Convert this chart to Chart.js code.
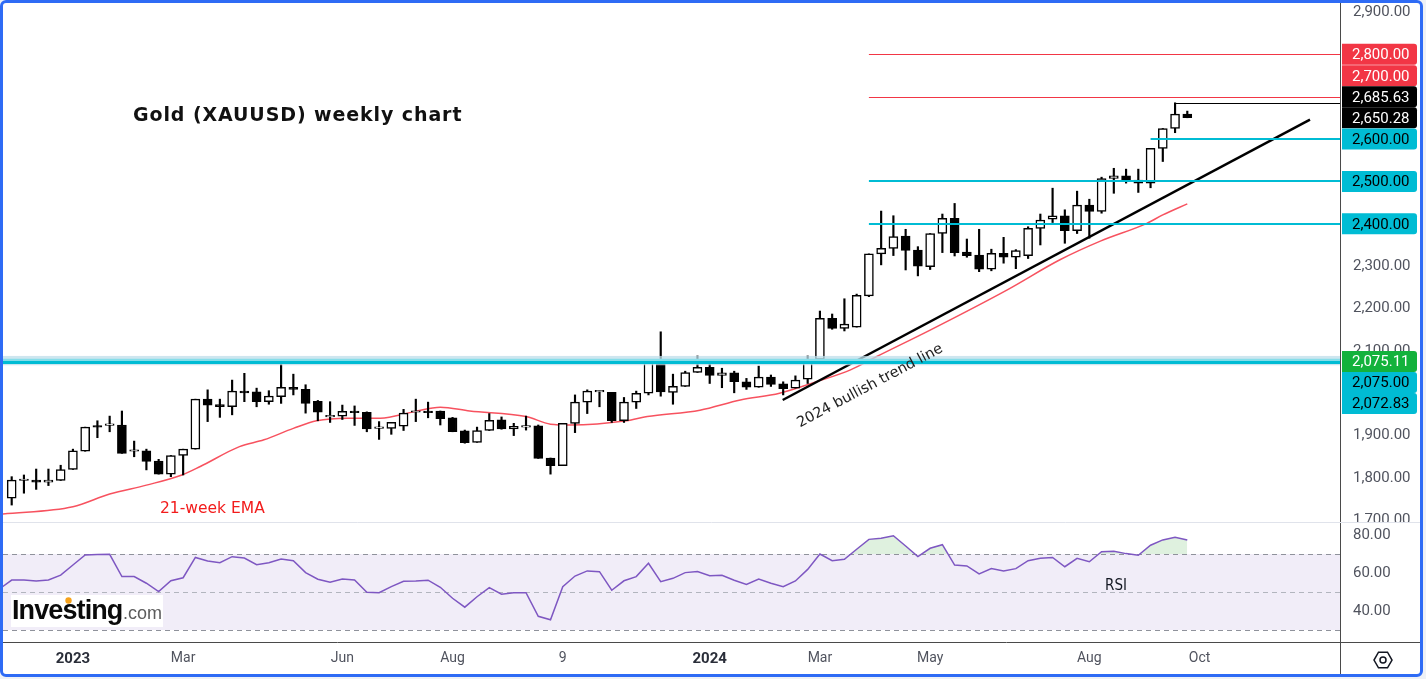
<!DOCTYPE html>
<html>
<head>
<meta charset="utf-8">
<title>Gold (XAUUSD) weekly chart</title>
<script src="https://cdn.jsdelivr.net/npm/chart.js@4.4.1/dist/chart.umd.min.js"></script>
<style>
  html, body { margin: 0; padding: 0; background: #eef1f6; }
  #wrap { position: relative; width: 1426px; height: 679px; }
  #bg { position: absolute; left: 0; top: 0; width: 1423px; height: 677px; background: #fff; border-radius: 6px; }
  #frame { position: absolute; left: 0; top: 0; width: 1423px; height: 677px; box-sizing: border-box;
           border: 3px solid #2e6bf5; border-radius: 6px; pointer-events: none; }
  #chart { position: absolute; left: 0; top: 0; }
</style>
</head>
<body>
<div id="wrap">
  <div id="bg"></div>
  <canvas id="chart" width="1426" height="679"></canvas>
  <div id="frame"></div>
</div>
<script>
// weekly candles, index 0 = week of 28 Nov 2022, last = week of 30 Sep 2024
const opens = [1752, 1794, 1795, 1790, 1794, 1820, 1863, 1923, 1924, 1925,
               1863, 1864, 1840, 1809, 1853, 1868, 1986, 1973, 1968, 2005,
               2003, 1980, 1992, 2014, 2009, 1981, 1944, 1946, 1958, 1955,
               1917, 1917, 1922, 1955, 1958, 1958, 1942, 1911, 1884, 1912,
               1937, 1916, 1920, 1923, 1847, 1829, 1929, 1979, 2003, 2002,
               1935, 1979, 2000, 2071, 2002, 2016, 2049, 2061, 2042, 2048,
               2027, 2014, 2038, 2022, 2012, 2033, 2080, 2177, 2153, 2156,
               2230, 2329, 2342, 2371, 2338, 2299, 2377, 2413, 2333, 2326,
               2293, 2330, 2321, 2325, 2389, 2411, 2419, 2384, 2444, 2429,
               2507, 2513, 2496, 2496, 2578, 2625, 2659];
const highs = [1803, 1807, 1821, 1821, 1830, 1868, 1920, 1935, 1946, 1958,
               1887, 1868, 1844, 1853, 1868, 1986, 2008, 1986, 2031, 2047,
               2012, 2006, 2080, 2045, 2020, 1983, 1980, 1972, 1970, 1956,
               1933, 1931, 1962, 1986, 1979, 1958, 1943, 1913, 1920, 1952,
               1944, 1929, 1946, 1925, 1847, 1929, 1996, 2008, 2006, 2002,
               1990, 2005, 2075, 2145, 2045, 2052, 2088, 2069, 2059, 2052,
               2035, 2064, 2043, 2027, 2041, 2088, 2194, 2187, 2223, 2234,
               2329, 2430, 2419, 2387, 2346, 2377, 2423, 2448, 2364, 2387,
               2340, 2368, 2339, 2393, 2423, 2484, 2433, 2477, 2458, 2510,
               2531, 2529, 2529, 2578, 2625, 2685.63, 2666];
const lows = [1736, 1764, 1773, 1782, 1794, 1820, 1863, 1895, 1909, 1858,
              1850, 1819, 1809, 1803, 1807, 1868, 1933, 1943, 1949, 1980,
              1968, 1974, 1976, 1996, 1953, 1935, 1931, 1938, 1924, 1909,
              1891, 1903, 1912, 1933, 1942, 1925, 1909, 1882, 1884, 1912,
              1915, 1900, 1913, 1846, 1809, 1829, 1907, 1952, 1968, 1931,
              1931, 1964, 1996, 1993, 1974, 2016, 2049, 2023, 2013, 2001,
              2009, 2014, 2016, 1996, 2012, 2023, 2080, 2151, 2147, 2156,
              2228, 2303, 2325, 2291, 2277, 2292, 2332, 2324, 2321, 2287,
              2289, 2307, 2294, 2318, 2350, 2403, 2354, 2377, 2366, 2425,
              2472, 2496, 2474, 2485, 2547, 2615, 2650.28];
const closes = [1795, 1797, 1790, 1795, 1820, 1864, 1920, 1920, 1925, 1858,
                1864, 1839, 1809, 1853, 1868, 1986, 1972, 1968, 2005, 2001,
                1980, 1993, 2014, 2009, 1976, 1955, 1945, 1957, 1954, 1916,
                1918, 1931, 1953, 1956, 1954, 1940, 1909, 1883, 1912, 1936,
                1916, 1922, 1921, 1846, 1829, 1929, 1979, 2005, 2005, 1935,
                1979, 2000, 2072, 2003, 2016, 2049, 2061, 2042, 2048, 2027,
                2014, 2038, 2021, 2011, 2031, 2080, 2177, 2153, 2163, 2231,
                2329, 2342, 2370, 2337, 2300, 2377, 2413, 2332, 2325, 2293,
                2330, 2321, 2337, 2389, 2409, 2419, 2384, 2444, 2429, 2507,
                2513, 2502, 2503, 2578, 2625, 2659, 2650.28];

// RSI(14), one value per candle, plus the week before the first candle
const rsiLead = 51.6;
const rsi = [56.3, 56.3, 55.8, 56.3, 58.9, 64.2, 69.5, 69.7, 69.8, 58.1,
             58.1, 54.6, 50.2, 55.9, 57.5, 68.2, 66.3, 65.4, 68.6, 67.9,
             64.4, 65.4, 67.4, 66.5, 60.2, 56.7, 55.1, 56.8, 56.3, 49.8,
             49.6, 52.8, 55.6, 55.8, 56.2, 52.5, 46.7, 42.0, 47.5, 52.3,
             48.8, 49.6, 49.6, 37.2, 35.4, 52.8, 58.4, 61.1, 60.7, 50.9,
             55.9, 58.1, 65.1, 55.4, 57.2, 60.2, 60.8, 58.6, 58.8, 56.2,
             54.0, 56.8, 54.6, 52.8, 55.8, 61.9, 70.0, 66.5, 67.2, 72.5,
             77.7, 78.3, 79.6, 74.2, 68.6, 73.0, 74.9, 64.2, 63.7, 59.5,
             62.3, 61.1, 62.3, 66.5, 67.7, 68.2, 63.3, 67.7, 65.9, 71.2,
             71.4, 70.2, 69.3, 74.6, 77.4, 78.8, 77.4];

// 21-week EMA
const emaWeek = [-0.71, 5.0, 8.0, 11.0, 13.9, 15.4, 18.6, 20.6, 23.0, 24.9, 27.4,
                 30.1, 32.8, 35.0, 37.4, 42.0, 44.0, 45.6, 50.2, 51.9, 56.2, 59.5,
                 62.7, 65.7, 68.5, 70.6, 75.0, 81.3, 85.6, 88.9, 92.7, 94.0, 96.0];
const emaValue = [1715, 1732, 1762, 1783, 1807, 1827, 1874, 1890, 1917, 1935, 1941,
                  1941, 1956, 1967, 1958, 1945, 1927, 1925, 1935, 1945, 1960, 1984,
                  2000, 2027, 2055, 2086, 2149, 2244, 2315, 2359, 2401, 2421, 2447];

// 2024 bullish trend line
const trendWeek = [62.96, 106.02];
const trendValue = [1984, 2646];

const tickWeeks = [5, 14, 27, 36, 45, 57, 66, 75, 88, 97];
const tickLabels = ['2023', 'Mar', 'Jun', 'Aug', '9', '2024', 'Mar', 'May', 'Aug', 'Oct'];
const priceTicks = [1700, 1800, 1900, 2000, 2100, 2200, 2300, 2400, 2500, 2600, 2700, 2800, 2900];
const rsiTicks = [40, 60, 80];

const redLevels = [2800, 2700];
const cyanLevels = [2600, 2500, 2400];
const athLevel = 2685.63;
const zoneBand = [2066, 2088];
const zoneLines = [2078, 2072.8];
const tagPrices = [2800, 2700, 2685.63, 2650.28, 2600, 2500, 2400, 2075.11, 2075.00, 2072.83];

const fmt = (v) => v.toLocaleString('en-US', { minimumFractionDigits: 2, maximumFractionDigits: 2 });
const weeks = closes.map((c, i) => i);

Chart.defaults.font.family = 'Roboto';

// no extra padding for first/last tick labels, the panes sit edge to edge
function noPad(s) {
    s.paddingTop = 0; s.paddingBottom = 0; s.paddingLeft = 0; s.paddingRight = 0;
}

const overlay = {
    id: 'overlay',
    beforeDatasetsDraw(chart) {
        const { ctx, chartArea: a, scales } = chart;
        const yr = scales.yRsi;
        ctx.save();
        // RSI 30-70 band
        const y70 = yr.getPixelForValue(70), y30 = yr.getPixelForValue(30);
        ctx.fillStyle = 'rgba(126, 87, 194, 0.11)';
        ctx.fillRect(a.left, y70, a.right - a.left, y30 - y70);
        ctx.lineWidth = 1;
        ctx.setLineDash([5, 4]);
        [[70, '#8f929b'], [50, '#b2b5be'], [30, '#8f929b']].forEach(([v, c]) => {
            const py = Math.round(yr.getPixelForValue(v)) + 0.5;
            ctx.strokeStyle = c;
            ctx.beginPath(); ctx.moveTo(a.left, py); ctx.lineTo(a.right, py); ctx.stroke();
        });
        ctx.restore();
    },
    afterDatasetsDraw(chart) {
        const { ctx, chartArea: a, scales: { x, y } } = chart;
        ctx.save();
        // 2075 support/resistance zone
        const b1 = y.getPixelForValue(zoneBand[1]), b0 = y.getPixelForValue(zoneBand[0]);
        ctx.fillStyle = 'rgba(190, 222, 234, 0.75)';
        ctx.fillRect(a.left, b1, a.right - a.left, b0 - b1);
        ctx.lineWidth = 3;
        ctx.strokeStyle = '#86dde9';
        let py = y.getPixelForValue(zoneLines[0]);
        ctx.beginPath(); ctx.moveTo(a.left, py); ctx.lineTo(a.right, py); ctx.stroke();
        ctx.strokeStyle = '#00bcd4';
        py = y.getPixelForValue(zoneLines[1]);
        ctx.beginPath(); ctx.moveTo(a.left, py); ctx.lineTo(a.right, py); ctx.stroke();

        // horizontal levels
        const hline = (v, fromWeek, color, w) => {
            const p = Math.round(y.getPixelForValue(v)) + (w % 2 ? 0.5 : 0);
            ctx.strokeStyle = color; ctx.lineWidth = w;
            ctx.beginPath(); ctx.moveTo(x.getPixelForValue(fromWeek), p); ctx.lineTo(a.right, p); ctx.stroke();
        };
        redLevels.forEach(v => hline(v, 70, '#f23645', 1));
        cyanLevels.forEach(v => hline(v, v === 2600 ? 93 : 70, '#00bcd4', 2));
        hline(athLevel, 95, '#000000', 1);
        ctx.restore();
    },
    afterDraw(chart) {
        const { ctx, chartArea: a, scales: { y } } = chart;
        ctx.save();

        // pane divider, clip the 1,700 label like the original
        ctx.fillStyle = '#ffffff';
        ctx.fillRect(a.right + 1, 522, 78, 6);
        ctx.strokeStyle = '#e0e3eb'; ctx.lineWidth = 1;
        ctx.beginPath(); ctx.moveTo(a.left, 522.5); ctx.lineTo(1420, 522.5); ctx.stroke();
        ctx.strokeStyle = '#4a4a4a';
        ctx.beginPath(); ctx.moveTo(a.right, a.bottom + 0.5); ctx.lineTo(1420, a.bottom + 0.5); ctx.stroke();
        ctx.beginPath(); ctx.moveTo(a.right + 0.5, a.bottom); ctx.lineTo(a.right + 0.5, 675); ctx.stroke();

        // price tags on the axis, stacked around the last price
        const tagStyle = {
            '2800': ['#f23645', '#fff'], '2700': ['#f23645', '#fff'],
            '2685.63': ['#000', '#fff'], '2650.28': ['#000', '#fff'],
            '2075.11': ['#13b23c', '#fff']
        };
        const h = 21;
        const raw = tagPrices.map(v => y.getPixelForValue(v));
        const pos = raw.slice();
        const anchor = tagPrices.indexOf(closes[closes.length - 1]);
        for (let k = anchor - 1; k >= 0; k--) pos[k] = Math.min(raw[k], pos[k + 1] - h);
        for (let k = anchor + 1; k < pos.length; k++) pos[k] = Math.max(raw[k], pos[k - 1] + h);
        ctx.font = '15px Roboto';
        ctx.textBaseline = 'middle';
        ctx.textAlign = 'left';
        tagPrices.forEach((v, k) => {
            const [bg, fg] = tagStyle[String(v)] || ['#00bcd4', '#000'];
            ctx.fillStyle = bg;
            ctx.beginPath();
            ctx.roundRect(a.right + 2, pos[k] - h / 2, 75, h, [0, 3, 3, 0]);
            ctx.fill();
            ctx.fillStyle = fg;
            ctx.fillText(fmt(v), a.right + 12, pos[k] + 1);
        });

        // title
        ctx.fillStyle = '#111';
        ctx.font = 'bold 19px "DejaVu Sans"';
        ctx.letterSpacing = '0.9px';
        ctx.textBaseline = 'alphabetic';
        ctx.fillText('Gold (XAUUSD) weekly chart', 133, 121);
        ctx.letterSpacing = '0px';

        // EMA label
        ctx.fillStyle = '#f21c1c';
        ctx.font = '15.5px "DejaVu Sans"';
        ctx.fillText('21-week EMA', 160, 513);

        // RSI label
        ctx.fillStyle = '#131722';
        ctx.font = '15px "DejaVu Sans Condensed", "DejaVu Sans"';
        ctx.textBaseline = 'middle';
        ctx.fillText('RSI', 1105, 586);

        // trend line label
        ctx.save();
        ctx.translate(870, 386);
        ctx.rotate(-Math.atan(77 / 145));
        ctx.textAlign = 'center';
        ctx.fillStyle = '#222';
        ctx.font = '14.5px "DejaVu Sans"';
        ctx.fillText('2024 bullish trend line', 0, 0);
        ctx.restore();

        // Investing.com logo
        ctx.fillStyle = '#ffffff';
        ctx.fillRect(11, 595, 152, 32);
        ctx.textBaseline = 'alphabetic';
        ctx.textAlign = 'left';
        ctx.fillStyle = '#0a0a0a';
        ctx.font = 'bold 27px "Liberation Sans"';
        ctx.letterSpacing = '-0.9px';
        ctx.fillText('Investing', 12, 619);
        ctx.letterSpacing = '0px';
        ctx.fillStyle = '#f7a21b';
        ctx.beginPath(); ctx.arc(68.5, 600.5, 3.2, 0, Math.PI * 2); ctx.fill();
        ctx.fillStyle = '#5c5c5c';
        ctx.font = '18px "Liberation Sans"';
        ctx.fillText('.com', 123, 619);

        // settings icon
        ctx.strokeStyle = '#131722'; ctx.lineWidth = 1.5;
        ctx.beginPath();
        for (let k = 0; k < 6; k++) {
            const ang = Math.PI / 3 * k;
            const px = 1383 + 9 * Math.cos(ang), pyy = 660 + 9 * Math.sin(ang);
            if (k === 0) ctx.moveTo(px, pyy); else ctx.lineTo(px, pyy);
        }
        ctx.closePath(); ctx.stroke();
        ctx.beginPath(); ctx.arc(1383, 660, 3, 0, Math.PI * 2); ctx.stroke();

        ctx.restore();
    }
};

const ctx = document.getElementById('chart').getContext('2d');

new Chart(ctx, {
    type: 'bar',
    data: {
        datasets: [
            {
                type: 'line',
                label: 'RSI',
                data: [{ x: -1, y: rsiLead }].concat(rsi.map((v, i) => ({ x: i, y: v }))),
                yAxisID: 'yRsi',
                borderColor: '#7e57c2',
                borderWidth: 1.5,
                pointRadius: 0,
                fill: { target: { value: 70 }, above: 'rgba(76, 175, 80, 0.18)', below: 'rgba(0, 0, 0, 0)' },
                order: 0
            },
            {
                type: 'line',
                label: 'Trend',
                data: trendWeek.map((w, i) => ({ x: w, y: trendValue[i] })),
                yAxisID: 'y',
                borderColor: '#000',
                borderWidth: 2.5,
                pointRadius: 0,
                order: 1
            },
            {
                type: 'bar',
                label: 'Body',
                data: weeks.map(i => ({ x: i, y: [opens[i], closes[i]] })),
                yAxisID: 'y',
                backgroundColor: weeks.map(i => closes[i] >= opens[i] ? '#ffffff' : '#000000'),
                borderColor: '#000000',
                borderWidth: 1.5,
                borderSkipped: false,
                barThickness: 9,
                minBarLength: 1.5,
                grouped: false,
                order: 2
            },
            {
                type: 'bar',
                label: 'Wick',
                data: weeks.map(i => ({ x: i, y: [lows[i], highs[i]] })),
                yAxisID: 'y',
                backgroundColor: '#000000',
                barThickness: 1.5,
                grouped: false,
                order: 3
            },
            {
                type: 'line',
                label: '21-week EMA',
                data: emaWeek.map((w, i) => ({ x: w, y: emaValue[i] })),
                yAxisID: 'y',
                borderColor: '#f7525f',
                borderWidth: 1.5,
                pointRadius: 0,
                cubicInterpolationMode: 'monotone',
                order: 4
            }
        ]
    },
    options: {
        responsive: false,
        animation: false,
        events: [],
        layout: { padding: { left: 3, top: 3, right: 6, bottom: 5 } },
        plugins: { legend: { display: false }, tooltip: { enabled: false } },
        scales: {
            x: {
                type: 'linear',
                offset: false,
                min: -0.71,
                max: 108.47,
                grid: { display: false, drawTicks: false },
                border: { color: '#4a4a4a' },
                afterBuildTicks: (s) => { s.ticks = tickWeeks.map(v => ({ value: v })); },
                afterFit: (s) => { s.height = 32; noPad(s); },
                ticks: {
                    autoSkip: false,
                    maxRotation: 0,
                    padding: 8,
                    callback: (v) => tickLabels[tickWeeks.indexOf(v)],
                    color: (c) => /^\d{4}$/.test(tickLabels[c.index]) ? '#2a2e39' : '#50535e',
                    font: (c) => /^\d{4}$/.test(tickLabels[c.index])
                        ? { family: 'Roboto', size: 15, weight: 'bold' }
                        : { family: 'Roboto', size: 14 }
                }
            },
            y: {
                type: 'linear',
                position: 'right',
                stack: 'pane',
                stackWeight: 519,
                min: 1696.0,
                max: 2921.2,
                grid: { display: false, drawTicks: false },
                border: { color: '#4a4a4a' },
                afterBuildTicks: (s) => { s.ticks = priceTicks.map(v => ({ value: v })); },
                afterFit: (s) => { s.width = 80; noPad(s); },
                ticks: { padding: 13, color: '#50535e', font: { size: 15 }, callback: (v) => fmt(v) }
            },
            yRsi: {
                type: 'linear',
                position: 'right',
                stack: 'pane',
                stackWeight: 120,
                min: 23.68,
                max: 86.84,
                grid: { display: false, drawTicks: false },
                border: { color: '#4a4a4a' },
                afterBuildTicks: (s) => { s.ticks = rsiTicks.map(v => ({ value: v })); },
                afterFit: (s) => { s.width = 80; noPad(s); },
                ticks: { padding: 13, color: '#50535e', font: { size: 15 }, callback: (v) => fmt(v) }
            }
        }
    },
    plugins: [overlay]
});
</script>
</body>
</html>
